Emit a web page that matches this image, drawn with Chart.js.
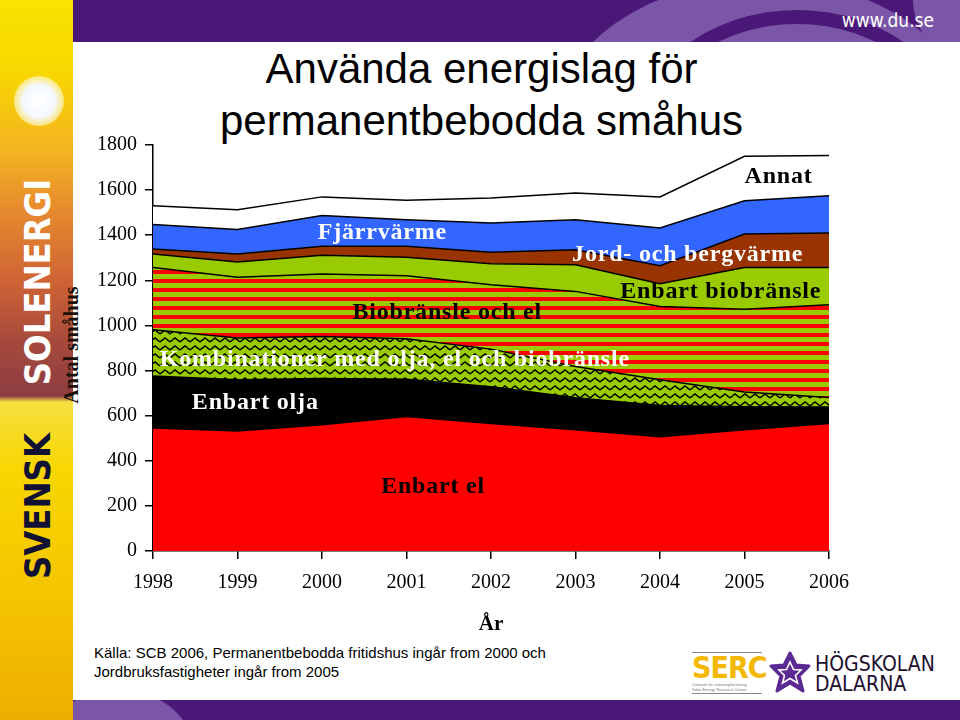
<!DOCTYPE html>
<html>
<head>
<meta charset="utf-8">
<script src="https://cdn.jsdelivr.net/npm/chart.js@4/dist/chart.umd.min.js"></script>
<style>
  body { margin: 0; width: 960px; height: 720px; overflow: hidden; background: #fff; position: relative; font-family: "Liberation Sans", Arial, sans-serif; }
  .abs { position: absolute; }
  #banner { left: 0; top: 0; width: 73px; height: 720px; overflow: hidden;
    background: linear-gradient(to bottom, #f9e300 0px, #f8d800 70px, #f3b420 150px, #e68a2e 210px, #cf6434 280px, #a84a3c 340px, #8c3c42 396px, #f6e040 402px, #f8d600 470px, #f5c400 600px, #eeae00 720px); }
  #sun { left: 14px; top: 76px; width: 50px; height: 50px; border-radius: 50%;
    background: radial-gradient(circle, #ffffff 0%, #f4f8ff 45%, rgba(255,250,200,0.6) 70%, rgba(255,240,0,0) 100%); }
  .vtext { transform: rotate(-90deg); transform-origin: center center; white-space: nowrap; text-align: center; }
  #topbar { left: 73px; top: 0; width: 887px; height: 42px; background: #4a1977; overflow: hidden; }
  #botbar { left: 73px; top: 700px; width: 887px; height: 20px; background: #4a1977; overflow: hidden; }
  .blob { position: absolute; border-radius: 50%; background: #7a55a8; }
  .ring { position: absolute; border-radius: 50%; border: 14px solid #4a1977; }
  #title { left: 73px; top: 43px; width: 817px; text-align: center; font-size: 42px; line-height: 52px; color: #000; }
  #source { left: 94px; top: 643px; font-size: 15px; line-height: 19px; color: #000; }
</style>
</head>
<body>
<div id="banner" class="abs">
  <div id="sun" class="abs"></div>
  <div class="abs vtext" style="left:-82px; top:262px; width:240px; height:40px; line-height:40px; font-family:'DejaVu Sans Condensed','DejaVu Sans'; font-weight:bold; font-size:36px; color:#fff;">SOLENERGI</div>
  <div class="abs vtext" style="left:-62px; top:486px; width:200px; height:40px; line-height:40px; font-family:'DejaVu Sans Condensed','DejaVu Sans'; font-weight:bold; font-size:36px; color:#111133;">SVENSK</div>
</div>
<div id="topbar" class="abs">
  <div class="blob" style="left:480px; top:-20px; width:420px; height:300px;"></div>
  <div class="ring" style="left:560px; top:10px; width:300px; height:240px;"></div>
  <div class="blob" style="left:840px; top:-60px; width:120px; height:120px;"></div>
  <div class="abs" style="right:26px; top:9px; font-family:'DejaVu Sans Condensed','DejaVu Sans'; font-size:19px; color:#fff;">www.du.se</div>
</div>
<div id="botbar" class="abs">
  <div class="blob" style="left:-30px; top:-10px; width:150px; height:120px;"></div>
</div>
<div id="title" class="abs">Använda energislag för<br>permanentbebodda småhus</div>
<div class="abs vtext" style="left:-1px; top:334px; width:144px; height:22px; line-height:22px; font-family:'Liberation Serif','Times New Roman',serif; font-size:20px; font-weight:bold; color:#1a1008;">Antal småhus</div>
<div id="source" class="abs">Källa: SCB 2006, Permanentbebodda fritidshus ingår from 2000 och<br>Jordbruksfastigheter ingår from 2005</div>

<!-- logos -->
<div class="abs" style="left:692px; top:652px; width:70px; border-top:1px solid #888; border-bottom:1px solid #888; padding:1px 0;">
  <div style="font-family:'DejaVu Sans Condensed','DejaVu Sans'; font-weight:bold; font-size:30px; line-height:28px; color:#f5b800; letter-spacing:-1px;">SERC</div>
  <div style="font-size:4px; line-height:5px; color:#777;">Centrum för solenergiforskning<br>Solar Energy Research Center</div>
</div>
<svg class="abs" style="left:768px; top:651px;" width="44" height="44" viewBox="0 0 44 44">
  <polygon points="22,2 28,14 41,15 31,25 35,40 22,32 9,40 13,25 3,15 16,14" fill="#5a2a92" stroke="#5a2a92" stroke-width="3" stroke-linejoin="round"/>
  <polygon points="22,11 25.5,18.5 33,19 27.5,24.5 29.5,32 22,27.5 14.5,32 16.5,24.5 11,19 18.5,18.5" fill="none" stroke="#fff" stroke-width="1.6"/>
</svg>
<div class="abs" style="left:815px; top:654px; font-family:'DejaVu Sans Condensed','DejaVu Sans'; font-size:21px; line-height:20px; color:#1e1030;">HÖGSKOLAN<br>DALARNA</div>

<div class="abs" style="left:0; top:0; width:960px; height:720px;">
  <canvas id="chart" width="960" height="720"></canvas>
</div>

<script>
// Antal småhus (tusental) per energislag, nerifrån och upp
const years = ['1998', '1999', '2000', '2001', '2002', '2003', '2004', '2005', '2006'];
const enbartEl = [545, 532, 560, 596, 565, 538, 507, 538, 565];
const enbartOlja = [231, 227, 205, 166, 163, 142, 138, 102, 73];
const kombinationer = [205, 185, 186, 179, 167, 138, 114, 65, 42];
const biobransleOchEl = [276, 270, 277, 279, 285, 333, 325, 367, 412];
const enbartBiobransle = [60, 67, 83, 82, 94, 118, 101, 185, 165];
const jordOchBerg = [22, 36, 40, 49, 50, 67, 80, 148, 153];
const fjarrvarme = [108, 108, 136, 118, 130, 133, 167, 148, 165];
const annat = [84, 88, 83, 86, 111, 118, 138, 197, 179];
const yTicks = [0, 200, 400, 600, 800, 1000, 1200, 1400, 1600, 1800];

const serif = "'Liberation Serif', 'Times New Roman', serif";

// stripe pattern: red / green
function stripePattern() {
    const c = document.createElement('canvas');
    c.width = 8; c.height = 9;
    const g = c.getContext('2d');
    g.fillStyle = '#99cc00';
    g.fillRect(0, 0, 8, 9);
    g.fillStyle = '#ff0000';
    g.fillRect(0, 0, 8, 4);
    return g.createPattern(c, 'repeat');
}

// zigzag pattern: black on green
function zigzagPattern() {
    const c = document.createElement('canvas');
    c.width = 10; c.height = 8;
    const g = c.getContext('2d');
    g.fillStyle = '#99cc00';
    g.fillRect(0, 0, 10, 8);
    g.strokeStyle = '#000';
    g.lineWidth = 1.5;
    g.beginPath();
    g.moveTo(0, 6); g.lineTo(5, 2); g.lineTo(10, 6);
    g.stroke();
    return g.createPattern(c, 'repeat');
}

// text labels inside the areas: [text, x (year index), y (value), colour]
const areaLabels = [
    ['Annat', 7.0, 1660, '#000'],
    ['Fjärrvärme', 1.95, 1411, '#fff'],
    ['Jord- och bergvärme', 4.96, 1314, '#fff'],
    ['Enbart biobränsle', 5.53, 1150, '#000'],
    ['Biobränsle och el', 2.36, 1056, '#000'],
    ['Kombinationer med olja, el och biobränsle', 0.08, 848, '#fff'],
    ['Enbart olja', 0.46, 657, '#fff'],
    ['Enbart el', 2.70, 284, '#000']
];

const labelPlugin = {
    id: 'areaLabels',
    afterDatasetsDraw(chart) {
        const ctx = chart.ctx;
        const x = chart.scales.x, y = chart.scales.y;
        ctx.save();
        ctx.font = 'bold 24px ' + serif;
        ctx.letterSpacing = '0.8px';
        ctx.textBaseline = 'middle';
        ctx.textAlign = 'left';
        areaLabels.forEach(l => {
            ctx.fillStyle = l[3];
            ctx.fillText(l[0], x.getPixelForDecimal(l[1] / (years.length - 1)), y.getPixelForValue(l[2]));
        });
        // axis title
        ctx.letterSpacing = '0px';
        ctx.fillStyle = '#000';
        ctx.textAlign = 'center';
        ctx.font = 'bold 21px ' + serif;
        ctx.fillText('År', (x.left + x.right) / 2, 625);
        ctx.restore();
    }
};

function layer(label, data, color, fill) {
    return {
        label: label,
        data: data,
        backgroundColor: color,
        borderColor: '#000',
        borderWidth: 1.5,
        pointRadius: 0,
        tension: 0,
        fill: fill
    };
}

const ctx = document.getElementById('chart').getContext('2d');
new Chart(ctx, {
    type: 'line',
    data: {
        labels: years,
        datasets: [
            layer('Enbart el', enbartEl, '#ff0000', 'origin'),
            layer('Enbart olja', enbartOlja, '#000000', '-1'),
            layer('Kombinationer med olja, el och biobränsle', kombinationer, zigzagPattern(), '-1'),
            layer('Biobränsle och el', biobransleOchEl, stripePattern(), '-1'),
            layer('Enbart biobränsle', enbartBiobransle, '#99cc00', '-1'),
            layer('Jord- och bergvärme', jordOchBerg, '#993300', '-1'),
            layer('Fjärrvärme', fjarrvarme, '#3366ff', '-1'),
            layer('Annat', annat, '#ffffff', '-1')
        ]
    },
    options: {
        responsive: false,
        animation: false,
        layout: { padding: { top: 145, right: 131, left: 0, bottom: 0 } },
        plugins: { legend: { display: false }, tooltip: { enabled: false } },
        scales: {
            x: {
                offset: false,
                grid: { drawOnChartArea: false, color: '#000', lineWidth: 1.5, tickLength: 8 },
                border: { color: '#000', width: 1.5 },
                ticks: { color: '#000', font: { family: serif, size: 20 }, padding: 12, maxRotation: 0 },
                afterFit(scale) { scale.height = 169; }
            },
            y: {
                stacked: true,
                min: 0,
                max: 1800,
                afterBuildTicks(scale) { scale.ticks = yTicks.map(v => ({ value: v })); },
                grid: { drawOnChartArea: false, color: '#000', lineWidth: 1.5, tickLength: 8 },
                border: { color: '#000', width: 1.5 },
                ticks: { color: '#000', font: { family: serif, size: 20 }, padding: 8, callback: v => String(v) },
                afterFit(scale) { scale.width = 153; }
            }
        }
    },
    plugins: [labelPlugin]
});
</script>
</body>
</html>
